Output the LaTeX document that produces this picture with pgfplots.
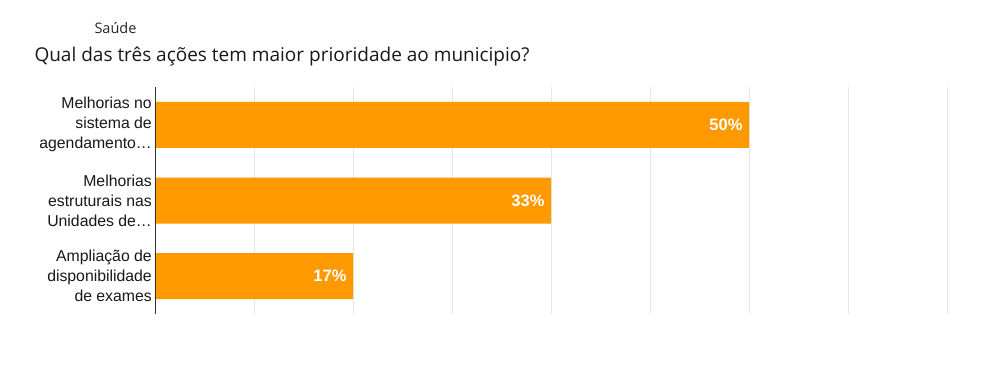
\documentclass[border=0pt]{standalone}
\usepackage{pgfplots}
\pgfplotsset{compat=1.18}
\usepackage{fontspec}
\setmainfont{Liberation Sans}
\newfontfamily\titlefont{Open Sans}
\definecolor{barorange}{HTML}{FF9900}
\definecolor{gridgray}{HTML}{E6E6E6}
\definecolor{axisdark}{HTML}{333333}
\begin{document}
\begin{tikzpicture}
\useasboundingbox[fill=white] (0pt,0pt) rectangle (1005pt,376pt);
\node[anchor=west,font=\titlefont\fontsize{14.5}{17}\selectfont,text=black!85] at (91pt,348pt) {Saúde};
\node[anchor=west,font=\titlefont\fontsize{19}{22}\selectfont,text=black!90] at (31pt,319pt) {Qual das três ações tem maior prioridade ao municipio?};
\begin{axis}[
  at={(155pt,62pt)}, anchor=south west,
  scale only axis, width=792pt, height=227pt,
  xbar, bar width=46pt,
  xmin=0, xmax=4, ymin=-0.5, ymax=2.5,
  xtick={0,0.5,...,4}, xticklabels={},
  xmajorgrids, major grid style={gridgray, line width=0.9pt},
  ytick={0,1,2},
  yticklabels={{Ampliação de\\disponibilidade\\de exames},{Melhorias\\estruturais nas\\Unidades de…},{Melhorias no\\sistema de\\agendamento…}},
  yticklabel style={align=right, font=\fontsize{15.8}{20}\selectfont, text=black!90, inner sep=3pt},
  major tick length=0pt,
  axis line style={draw=none},
  point meta=explicit symbolic,
  nodes near coords,
  every node near coord/.append style={anchor=east, xshift=-3pt, text=white, font=\bfseries\fontsize{16.5}{18}\selectfont},
  clip=false,
  after end axis/.code={\draw[axisdark, line width=0.9pt] (rel axis cs:0,0) -- (rel axis cs:0,1);},
]
\addplot[fill=barorange, draw=none] table[meta=lab] {
x y lab
1 0 17\%
2 1 33\%
3 2 50\%
};
\end{axis}
\end{tikzpicture}
\end{document}
